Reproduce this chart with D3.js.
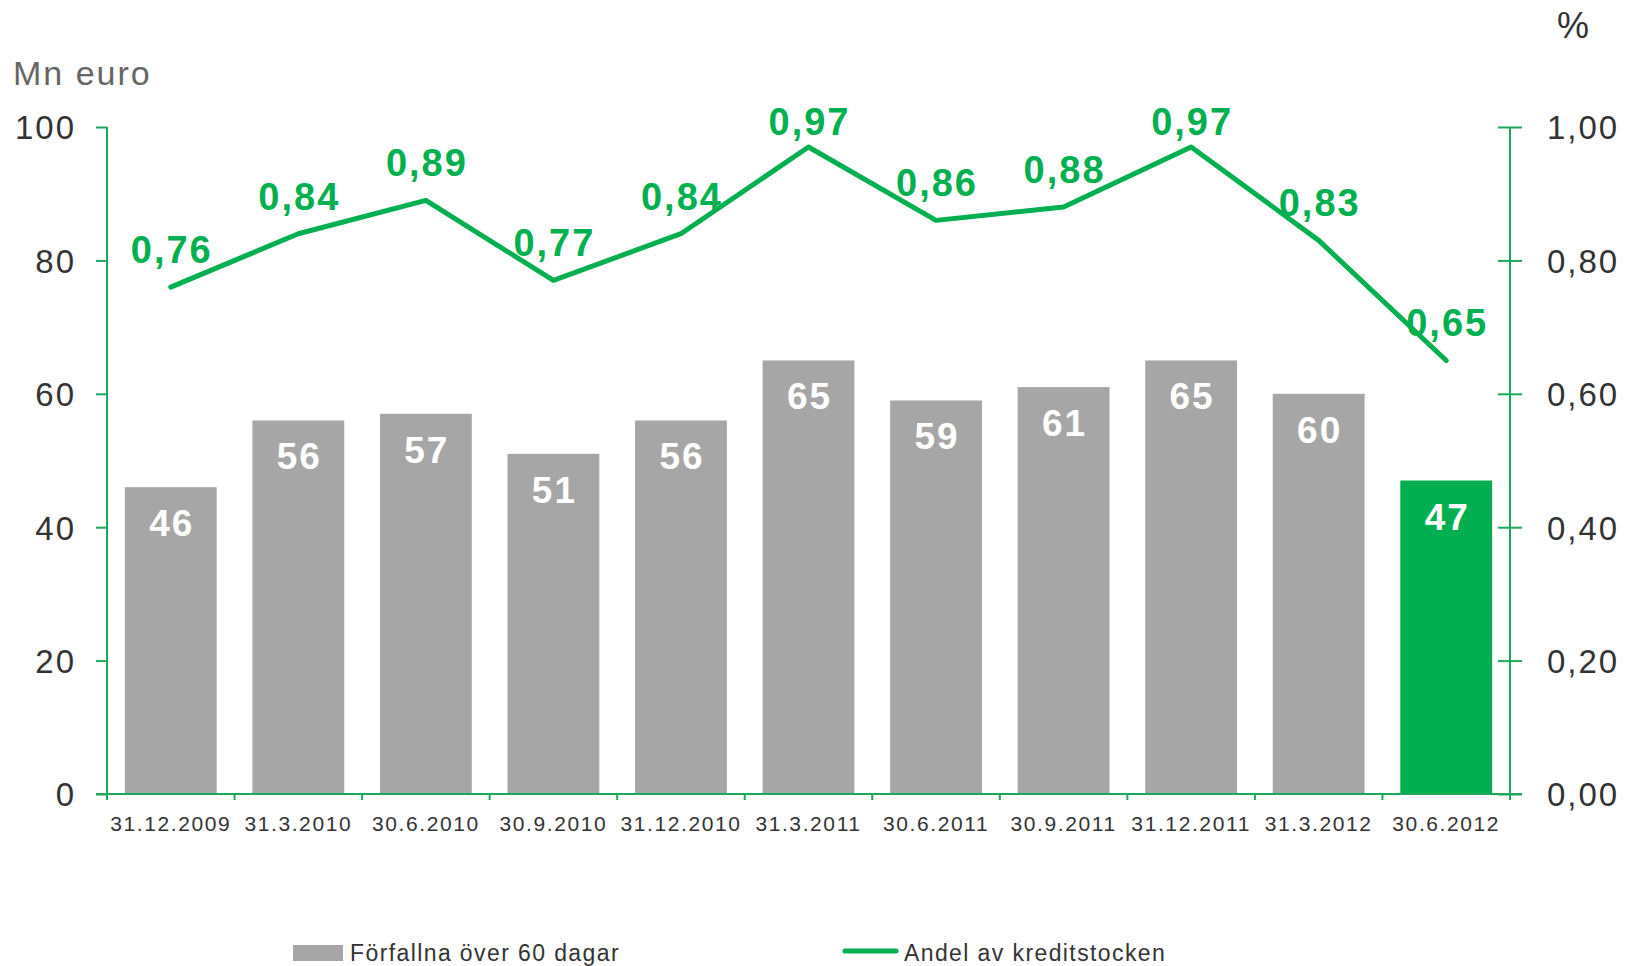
<!DOCTYPE html>
<html>
<head>
<meta charset="utf-8">
<script src="https://cdn.jsdelivr.net/npm/d3@7"></script>
<style>
  body { margin: 0; background: #fff; }
  text { font-family: "Liberation Sans", Arial, sans-serif; }
</style>
</head>
<body>
<div id="chart"></div>
<script>
// Data
const dates = ["31.12.2009", "31.3.2010", "30.6.2010", "30.9.2010", "31.12.2010", "31.3.2011",
               "30.6.2011", "30.9.2011", "31.12.2011", "31.3.2012", "30.6.2012"];
const overdue = [46, 56, 57, 51, 56, 65, 59, 61, 65, 60, 47];          // Mn euro
const share = [0.76, 0.84, 0.89, 0.77, 0.84, 0.97, 0.86, 0.88, 0.97, 0.83, 0.65]; // %
const leftTicks = [0, 20, 40, 60, 80, 100];
const rightTicks = [0, 0.2, 0.4, 0.6, 0.8, 1.0];
const legendLabels = ["Förfallna över 60 dagar", "Andel av kreditstocken"];

const W = 1632, H = 966;
const plotLeft = 107, plotRight = 1510, plotTop = 127, plotBottom = 794;

const grey = "#a6a6a6", green = "#00b050", axisGreen = "#1aa85a", textDark = "#333";
const fmt = d => d.toFixed(2).replace(".", ",");

const x = d3.scaleBand().domain(dates).range([plotLeft, plotRight]).paddingInner(0.28).paddingOuter(0.14);
const y = d3.scaleLinear().domain([0, 100]).range([plotBottom, plotTop]);
const yR = d3.scaleLinear().domain([0, 1]).range([plotBottom, plotTop]);

const svg = d3.select("#chart").append("svg")
    .attr("width", W)
    .attr("height", H);

// Bars
svg.selectAll(".bar")
    .data(overdue)
  .enter().append("rect")
    .attr("class", "bar")
    .attr("x", (d, i) => x(dates[i]))
    .attr("y", d => y(d))
    .attr("width", x.bandwidth())
    .attr("height", d => y(0) - y(d))
    .attr("fill", (d, i) => i === dates.length - 1 ? green : grey);

// Bar labels
svg.selectAll(".bar-label")
    .data(overdue)
  .enter().append("text")
    .attr("class", "bar-label")
    .attr("x", (d, i) => x(dates[i]) + x.bandwidth() / 2 + 1)
    .attr("y", d => y(d) + 49)
    .attr("text-anchor", "middle")
    .style("font-size", "37px")
    .style("font-weight", "bold")
    .style("letter-spacing", "2px")
    .attr("fill", "#fff")
    .text(d => d);

// Left axis
const yAxis = d3.axisLeft(y).tickValues(leftTicks).tickSize(11).tickPadding(20);
const gL = svg.append("g")
    .attr("transform", `translate(${plotLeft},0)`)
    .call(yAxis);
gL.select(".domain").attr("stroke", axisGreen).attr("stroke-width", 2)
    .attr("d", `M0,${plotTop}V${plotBottom}`);
gL.selectAll(".tick line").attr("stroke", axisGreen).attr("stroke-width", 2);
gL.selectAll(".tick text")
    .attr("fill", textDark)
    .style("font-size", "33px")
    .style("letter-spacing", "2px")
    .attr("dy", "0.36em");

// Right axis (ticks cross the line)
const yAxisR = d3.axisRight(yR).tickValues(rightTicks).tickSize(12).tickPadding(25).tickFormat(fmt);
const gR = svg.append("g")
    .attr("transform", `translate(${plotRight},0)`)
    .call(yAxisR);
gR.select(".domain").attr("stroke", axisGreen).attr("stroke-width", 2)
    .attr("d", `M0,${plotTop}V${plotBottom}`);
gR.selectAll(".tick line").attr("stroke", axisGreen).attr("stroke-width", 2).attr("x1", -12);
gR.selectAll(".tick text")
    .attr("fill", textDark)
    .style("font-size", "33px")
    .style("letter-spacing", "2px")
    .attr("dy", "0.36em");

// Bottom axis, ticks on category boundaries
const xAxis = d3.axisBottom(x).tickSize(0).tickPadding(30);
const gB = svg.append("g")
    .attr("transform", `translate(0,${plotBottom})`)
    .call(xAxis);
gB.select(".domain").attr("stroke", axisGreen).attr("stroke-width", 2)
    .attr("d", `M${plotLeft - 11},0H${plotRight + 12}`);
gB.selectAll(".tick text")
    .attr("fill", textDark)
    .style("font-size", "21px")
    .style("letter-spacing", "1.6px")
    .attr("dy", "0.71em")
    .attr("y", 22);
const bounds = dates.map(d => x(d) - x.step() * 0.14).concat([plotRight]);
gB.selectAll(".bound")
    .data(bounds)
  .enter().append("line")
    .attr("class", "bound")
    .attr("x1", d => d).attr("x2", d => d)
    .attr("y1", 0).attr("y2", 6)
    .attr("stroke", axisGreen)
    .attr("stroke-width", 2);

// Line series
const line = d3.line()
    .x((d, i) => x(dates[i]) + x.bandwidth() / 2)
    .y(d => yR(d));

svg.append("path")
    .datum(share)
    .attr("d", line)
    .attr("fill", "none")
    .attr("stroke", green)
    .attr("stroke-width", 5)
    .attr("stroke-linecap", "round")
    .attr("stroke-linejoin", "round");

// Line labels, kept inside the plot top
svg.selectAll(".line-label")
    .data(share)
  .enter().append("text")
    .attr("class", "line-label")
    .attr("x", (d, i) => x(dates[i]) + x.bandwidth() / 2 + 1)
    .attr("y", d => Math.max(yR(d) - 24, plotTop + 8))
    .attr("text-anchor", "middle")
    .style("font-size", "38px")
    .style("font-weight", "bold")
    .style("letter-spacing", "2px")
    .attr("fill", green)
    .text(fmt);

// Axis titles
svg.append("text")
    .attr("x", 13)
    .attr("y", 85)
    .style("font-size", "34px")
    .style("letter-spacing", "2px")
    .attr("fill", "#666")
    .text("Mn euro");

svg.append("text")
    .attr("x", 1557)
    .attr("y", 38)
    .style("font-size", "36px")
    .attr("fill", textDark)
    .text("%");

// Legend
const leg = svg.append("g");
leg.append("rect")
    .attr("x", 293).attr("y", 945)
    .attr("width", 50).attr("height", 16)
    .attr("fill", grey);
leg.append("text")
    .attr("x", 350).attr("y", 961)
    .style("font-size", "23px")
    .style("letter-spacing", "1.4px")
    .attr("fill", textDark)
    .text(legendLabels[0]);
leg.append("line")
    .attr("x1", 845).attr("x2", 896)
    .attr("y1", 951).attr("y2", 951)
    .attr("stroke", green)
    .attr("stroke-width", 5)
    .attr("stroke-linecap", "round");
leg.append("text")
    .attr("x", 904).attr("y", 961)
    .style("font-size", "23px")
    .style("letter-spacing", "1.4px")
    .attr("fill", textDark)
    .text(legendLabels[1]);
</script>
</body>
</html>
